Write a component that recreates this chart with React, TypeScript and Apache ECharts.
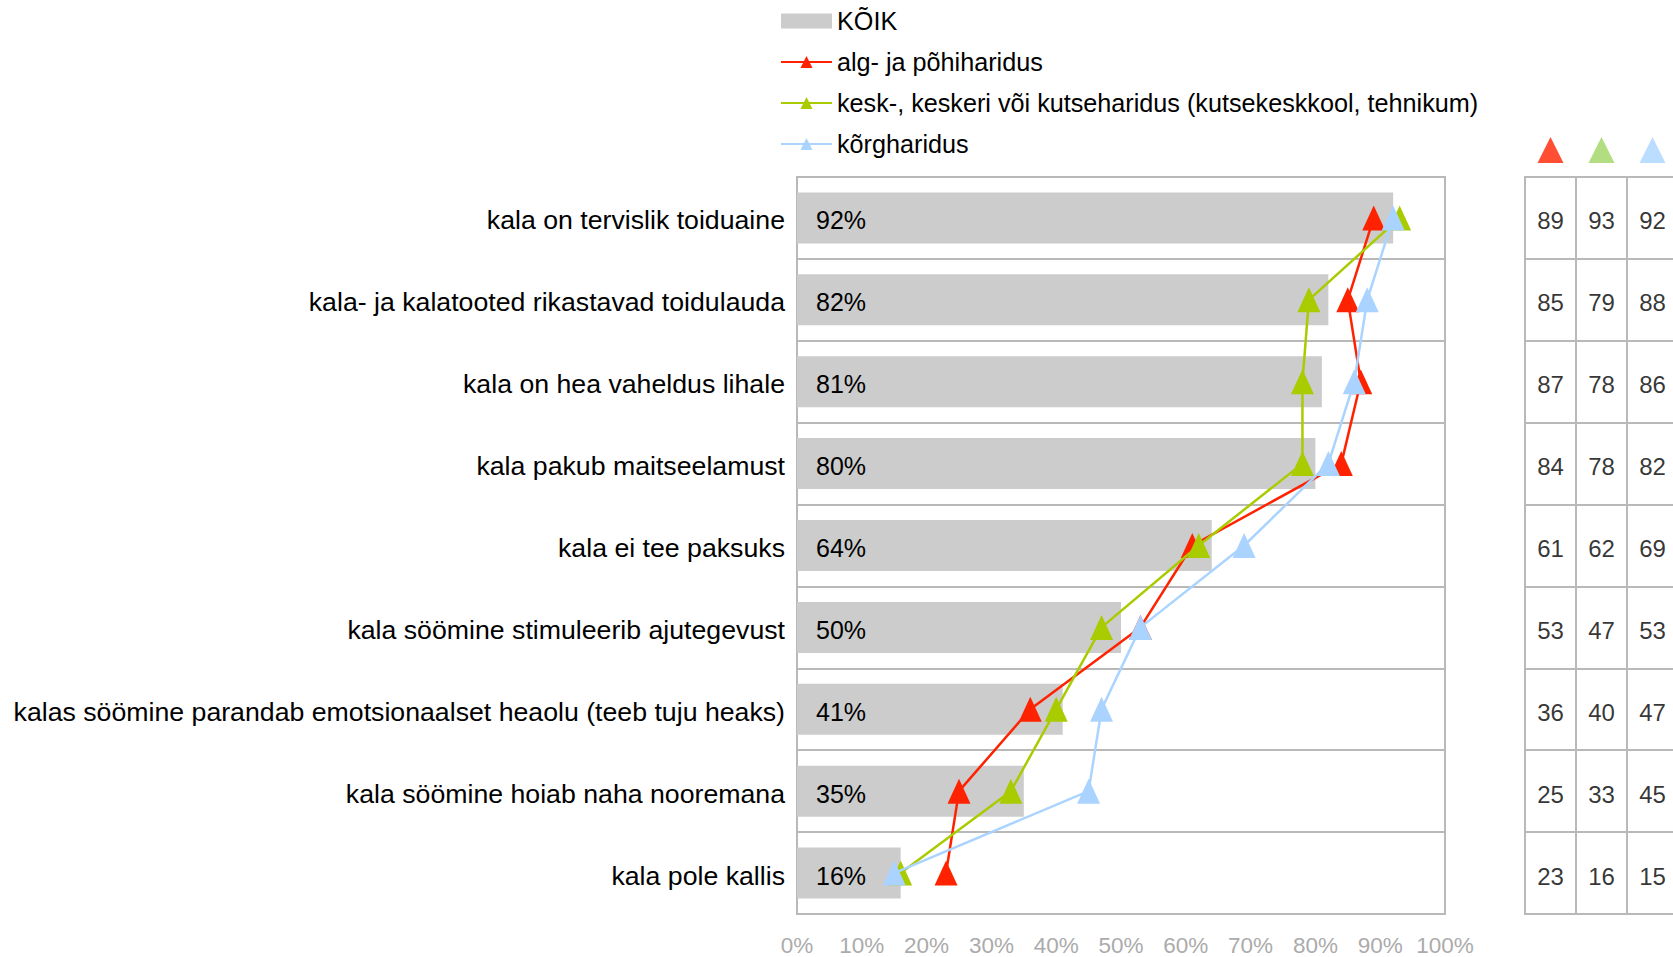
import React, { useEffect, useRef } from "react";
import * as echarts from "echarts";

const categories = [
  "kala on tervislik toiduaine",
  "kala- ja kalatooted rikastavad toidulauda",
  "kala on hea vaheldus lihale",
  "kala pakub maitseelamust",
  "kala ei tee paksuks",
  "kala söömine stimuleerib ajutegevust",
  "kalas söömine parandab emotsionaalset heaolu (teeb tuju heaks)",
  "kala söömine hoiab naha nooremana",
  "kala pole kallis",
];
const seriesNames = [
  "KÕIK",
  "alg- ja põhiharidus",
  "kesk-, keskeri või kutseharidus (kutsekeskkool, tehnikum)",
  "kõrgharidus",
];
const allValues = [92, 82, 81, 80, 64, 50, 41, 35, 16];
const basicValues = [89, 85, 87, 84, 61, 53, 36, 25, 23];
const secondaryValues = [93, 79, 78, 78, 62, 47, 40, 33, 16];
const higherValues = [92, 88, 86, 82, 69, 53, 47, 45, 15];
const xTicks = [0, 10, 20, 30, 40, 50, 60, 70, 80, 90, 100];

const FONT = "'Liberation Sans', Arial, Helvetica, sans-serif";
const lineColors = ["#ff2200", "#a8cc00", "#aad4ff"];
const headerColors = ["#ff2200", "#9fd462", "#aad4ff"];

export default function App() {
  const ref = useRef<HTMLDivElement>(null);
  useEffect(() => {
    if (!ref.current) return;
    const chart = echarts.init(ref.current, null, { renderer: "svg" });
    const lineData = [basicValues, secondaryValues, higherValues];
    const tableData: any[] = [];
    lineData.forEach((arr, c) => arr.forEach((v, r) => tableData.push([c, r, v])));
    const gridBorder = "#b9b9b9";
    const option: any = {
      animation: false,
      backgroundColor: "#ffffff",
      textStyle: { fontFamily: FONT },
      legend: {
        orient: "vertical",
        left: 780,
        top: 8,
        padding: 0,
        itemWidth: 51,
        itemHeight: 15,
        itemGap: 15,
        textStyle: { fontFamily: FONT, fontSize: 25.2, color: "#000", lineHeight: 26 },
        data: [
          { name: seriesNames[0], icon: "rect", itemStyle: { color: "#cccccc" } },
          seriesNames[1],
          seriesNames[2],
          seriesNames[3],
        ],
      },
      grid: [
        {
          left: 797,
          top: 177,
          width: 648,
          height: 737,
          show: true,
          borderColor: gridBorder,
          borderWidth: 2,
        },
        {
          left: 1525,
          top: 177,
          width: 153,
          height: 737,
          show: true,
          borderColor: gridBorder,
          borderWidth: 2,
        },
        { left: 1525, top: 137, width: 153, height: 26 },
      ],
      xAxis: [
        {
          gridIndex: 0,
          type: "value",
          min: xTicks[0],
          max: xTicks[xTicks.length - 1],
          interval: 10,
          axisLine: { show: false },
          axisTick: { show: false },
          splitLine: { show: false },
          axisLabel: {
            formatter: "{value}%",
            color: "#ababab",
            fontSize: 22.5,
            fontFamily: FONT,
            margin: 20,
          },
        },
        {
          gridIndex: 1,
          type: "category",
          data: ["0", "1", "2"],
          axisLine: { show: false },
          axisTick: { show: false },
          axisLabel: { show: false },
          splitLine: { show: true, lineStyle: { color: gridBorder, width: 2 } },
        },
        {
          gridIndex: 2,
          type: "category",
          data: ["0", "1", "2"],
          show: false,
        },
      ],
      yAxis: [
        {
          gridIndex: 0,
          type: "category",
          inverse: true,
          data: categories,
          axisLine: { show: false },
          axisTick: { show: false },
          splitLine: { show: true, lineStyle: { color: gridBorder, width: 2 } },
          axisLabel: {
            color: "#000",
            fontSize: 26.7,
            fontFamily: FONT,
            margin: 12,
            verticalAlign: "top",
            lineHeight: 5,
          },
        },
        {
          gridIndex: 1,
          type: "category",
          inverse: true,
          data: categories,
          axisLine: { show: false },
          axisTick: { show: false },
          axisLabel: { show: false },
          splitLine: { show: true, lineStyle: { color: gridBorder, width: 2 } },
        },
        {
          gridIndex: 2,
          type: "value",
          min: 0,
          max: 1,
          show: false,
        },
      ],
      series: [
        {
          name: seriesNames[0],
          type: "bar",
          xAxisIndex: 0,
          yAxisIndex: 0,
          data: allValues,
          barWidth: 51,
          itemStyle: { color: "#cccccc" },
          label: {
            show: true,
            position: "insideLeft",
            distance: 19,
            offset: [0, 2.5],
            formatter: "{c}%",
            color: "#000",
            fontSize: 25,
            fontFamily: FONT,
          },
          z: 1,
        },
        ...lineData.map((arr, i) => ({
          name: seriesNames[i + 1],
          type: "line",
          xAxisIndex: 0,
          yAxisIndex: 0,
          data: arr.map((v, r) => [v, categories[r]]),
          symbol: "triangle",
          symbolSize: [23, 25],
          lineStyle: { color: lineColors[i], width: 2.5 },
          itemStyle: { color: lineColors[i] },
          z: 3 + i,
        })),
        {
          type: "scatter",
          xAxisIndex: 1,
          yAxisIndex: 1,
          data: tableData.map((d) => [String(d[0]), categories[d[1]], d[2]]),
          symbol: "rect",
          symbolSize: 1,
          itemStyle: { color: "rgba(0,0,0,0)" },
          label: {
            show: true,
            position: "inside",
            formatter: (p: any) => String(p.value[2]),
            color: "#000",
            fontSize: 24,
            fontFamily: "Arial, 'Liberation Sans', Helvetica, sans-serif",
            offset: [0, 3],
          },
          silent: true,
        },
        {
          type: "scatter",
          xAxisIndex: 2,
          yAxisIndex: 2,
          data: headerColors.map((c, i) => ({
            value: [String(i), 0.5],
            itemStyle: { color: c },
          })),
          symbol: "triangle",
          symbolSize: [26, 26],
          silent: true,
        },
      ],
    };
    chart.setOption(option);
    return () => chart.dispose();
  }, []);
  return (
    <div
      ref={ref}
      style={{ position: "fixed", left: 0, top: 0, width: 1700, height: 957 }}
    />
  );
}
